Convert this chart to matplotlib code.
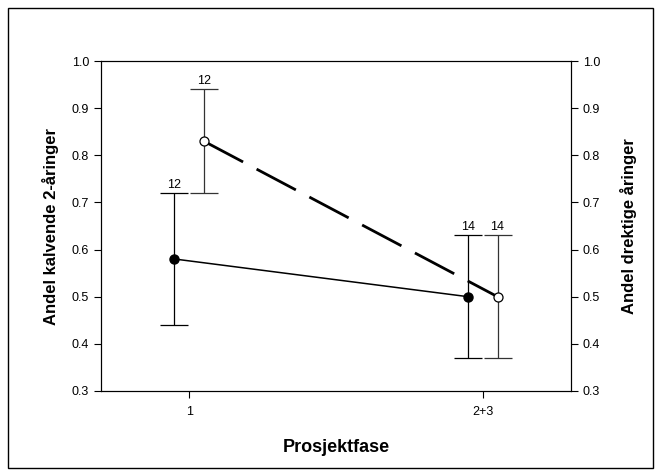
import numpy as np
import matplotlib.pyplot as plt
from matplotlib.patches import Rectangle

plt.rcParams['font.family'] = ['Liberation Sans', 'DejaVu Sans']

phases = ['1', '2+3']

# andel kalvende 2-åringer (venstre akse)
kalvende = [0.58, 0.50]
kalvende_lo = [0.44, 0.37]
kalvende_hi = [0.72, 0.63]
kalvende_n = [12, 14]

# andel drektige åringer (høyre akse)
drektige = [0.83, 0.50]
drektige_lo = [0.72, 0.37]
drektige_hi = [0.94, 0.63]
drektige_n = [12, 14]

x = np.arange(1, len(phases) + 1)
shift = 0.05

fig = plt.figure(figsize=(6.61, 4.76), dpi=100)
fig.patches.append(Rectangle((8 / 661, 8 / 476), 645 / 661, 460 / 476,
                             transform=fig.transFigure, fill=False,
                             edgecolor='black', linewidth=1.0))

ax = fig.add_axes([0.1528, 0.1786, 0.711, 0.6932])
ax2 = ax.twinx()

# kalvende: fylte sirkler, heltrukken linje
y1 = np.array(kalvende)
err1 = [y1 - np.array(kalvende_lo), np.array(kalvende_hi) - y1]
ax.errorbar(x - shift, y1, yerr=err1, fmt='none', ecolor='black',
            elinewidth=0.9, capsize=10, capthick=0.9, zorder=2)
ax.plot(x - shift, y1, color='black', linewidth=1.1, marker='o',
        markersize=6.5, markerfacecolor='black', markeredgecolor='black',
        zorder=3)
for xi, hi, n in zip(x - shift, kalvende_hi, kalvende_n):
    ax.annotate(str(n), (xi, hi), xytext=(0, 1.5), textcoords='offset points',
                ha='center', va='bottom', fontsize=9)

# drektige: åpne sirkler, stiplet linje
y2 = np.array(drektige)
err2 = [y2 - np.array(drektige_lo), np.array(drektige_hi) - y2]
ax2.errorbar(x + shift, y2, yerr=err2, fmt='none', ecolor='#333333',
             elinewidth=0.9, capsize=10, capthick=0.9, zorder=2)
ax2.plot(x + shift, y2, color='black', linewidth=2.0,
         linestyle=(0, (16, 5.5)), zorder=3)
ax2.plot(x + shift, y2, linestyle='none', marker='o', markersize=6.5,
         markerfacecolor='white', markeredgecolor='black',
         markeredgewidth=0.9, zorder=4)
for xi, hi, n in zip(x + shift, drektige_hi, drektige_n):
    ax2.annotate(str(n), (xi, hi), xytext=(0, 1.5), textcoords='offset points',
                 ha='center', va='bottom', fontsize=9)

for a in (ax, ax2):
    a.set_ylim(0.3, 1.0)
    a.set_yticks(np.arange(0.3, 1.01, 0.1))
    a.set_yticklabels([f'{v:.1f}' for v in np.arange(0.3, 1.01, 0.1)])
    a.tick_params(axis='both', direction='out', length=5, width=0.8,
                  labelsize=9)
    for s in a.spines.values():
        s.set_linewidth(0.8)

ax.set_xlim(0.7, 2.3)
ax.set_xticks(x)
ax.set_xticklabels(phases)
ax.tick_params(axis='x', pad=6)

ax.set_xlabel('Prosjektfase', fontsize=13, fontweight='bold', labelpad=15)
ax.set_ylabel('Andel kalvende 2-åringer', fontsize=12, fontweight='bold',
              labelpad=9)
ax2.set_ylabel('Andel drektige åringer', fontsize=12, fontweight='bold',
               rotation=90, labelpad=14)

fig.savefig('out.png', dpi=100)
